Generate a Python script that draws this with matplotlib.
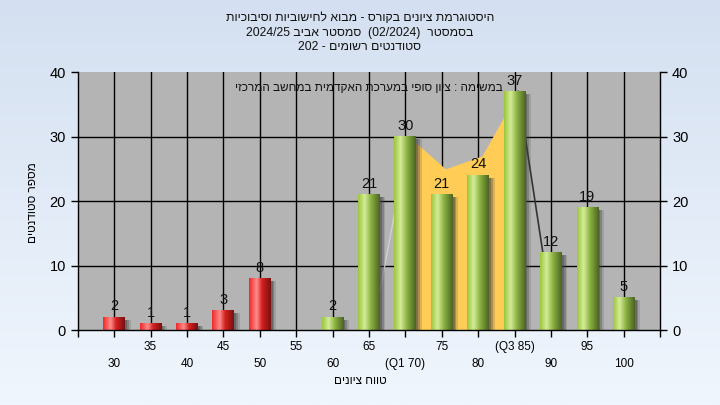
import numpy as np
import matplotlib
matplotlib.use("Agg")
import matplotlib.pyplot as plt
from matplotlib.colors import LinearSegmentedColormap

plt.rcParams['font.family'] = ['Liberation Sans', 'DejaVu Sans']

# ---- data ----
categories = [30, 35, 40, 45, 50, 55, 60, 65, 70, 75, 80, 85, 90, 95, 100]
tick_labels = ['30', '35', '40', '45', '50', '55', '60', '65', '(Q1 70)', '75',
               '80', '(Q3 85)', '90', '95', '100']
counts = [2, 1, 1, 3, 8, 0, 2, 21, 30, 21, 24, 37, 12, 19, 5]
pass_grade = 55
area_cats = [65, 70, 75, 80, 85, 90]
area_vals = [0, 30, 25, 27, 37, 0]
q1_cat, q3_cat = 70, 85

title_lines = ["היסטוגרמת ציונים בקורס - מבוא לחישוביות וסיבוכיות",
               "בסמסטר  (02/2024)  סמסטר אביב 2024/25",
               "סטודנטים רשומים - 202"]
note_text = "במשימה : ציון סופי במערכת האקדמית במחשב המרכזי"
xlabel_text = "טווח ציונים"
ylabel_text = "מספר סטודנטים"


def visual(s):
    """Convert logical RTL string into visual (left-to-right) order."""
    import re
    tokens = re.findall(r'[0-9/]+|\(|\)|[^0-9/()]', s)
    out = []
    for t in tokens:
        if t == '(':
            out.append(')')
        elif t == ')':
            out.append('(')
        else:
            out.append(t)
    return ''.join(reversed(out))


fig = plt.figure(figsize=(7.2, 4.05), dpi=100)

# background gradient
bg = fig.add_axes([0, 0, 1, 1], zorder=-10)
grad = np.linspace(0, 1, 256).reshape(-1, 1)
bg_cmap = LinearSegmentedColormap.from_list('bg', ['#d4e0f1', '#f0f6fd'])
bg.imshow(grad, aspect='auto', cmap=bg_cmap, extent=[0, 1, 0, 1], origin='upper')
bg.set_axis_off()

ax = fig.add_axes([0.108, 0.185, 0.809, 0.637])
ax.set_facecolor('#b4b4b4')

x = np.arange(len(categories))
pos = {c: i for i, c in enumerate(categories)}

# grid
for xi in x:
    ax.axvline(xi, color='black', lw=1.0, zorder=0.5)
for yv in [10, 20, 30]:
    ax.axhline(yv, color='black', lw=1.0, zorder=0.5)

# area / line series
ax_x = np.array([pos[c] for c in area_cats], dtype=float) + 0.1
ax_y = np.array(area_vals, dtype=float)
iq1 = area_cats.index(q1_cat)
iq3 = area_cats.index(q3_cat)
ax.fill_between(ax_x[iq1:iq3 + 1], 0, ax_y[iq1:iq3 + 1], color='#ffcc55', lw=0, zorder=1)
ax.plot(ax_x[:iq1 + 1], ax_y[:iq1 + 1], color='#d0d0d0', lw=1.0, zorder=1.1)
ax.plot(ax_x[iq3:], ax_y[iq3:], color='#333333', lw=1.2, zorder=1.1)

# bars with gradient
red_cmap = LinearSegmentedColormap.from_list(
    'r', [(0, '#ee2a2a'), (0.35, '#ff8a8a'), (0.6, '#d42020'), (1, '#7a1010')])
green_cmap = LinearSegmentedColormap.from_list(
    'g', [(0, '#9cc63c'), (0.3, '#d4ec98'), (0.6, '#8ab040'), (1, '#4c6424')])
w = 0.6
hgrad = np.linspace(0, 1, 64).reshape(1, -1)
for xi, c, v in zip(x, categories, counts):
    if v <= 0:
        continue
    cmap = red_cmap if c < pass_grade else green_cmap
    # shadow
    for k, a in enumerate([0.4, 0.3, 0.18]):
        ax.add_patch(plt.Rectangle((xi + w / 2, 0), 0.05 * (k + 1), v - 0.4,
                                   color='#404040', alpha=a, lw=0, zorder=1.5))
    ax.imshow(hgrad, aspect='auto', cmap=cmap,
              extent=[xi - w / 2, xi + w / 2, 0, v], zorder=2)
    ax.text(xi, v + 0.6, str(v), ha='center', va='bottom', fontsize=10.5,
            color='#111111', zorder=3)

ax.set_xlim(-1, len(categories))
ax.set_ylim(0, 40)

# ticks
ax.set_xticks(np.arange(-1, len(categories) + 1))
ax.set_xticklabels([])
ax.tick_params(axis='x', length=5, width=1, direction='out')
for xi, lab in zip(x, tick_labels):
    yy = -0.065 if xi % 2 == 1 else -0.13
    ax.text(xi, yy, lab, transform=ax.get_xaxis_transform(), ha='center',
            va='center', fontsize=8.5)

ax.set_yticks([0, 10, 20, 30, 40])
ax.tick_params(axis='y', length=5, width=1, labelsize=10.5, direction='out',
               left=True, right=True, labelleft=True, labelright=True)

for s in ['left', 'bottom', 'right']:
    ax.spines[s].set_color('black')
    ax.spines[s].set_linewidth(1.0)
ax.spines['top'].set_visible(False)

# note inside plot
ax.text(0.5, 0.94, visual(note_text), transform=ax.transAxes, ha='center',
        va='center', fontsize=8.5, color='#111111', zorder=4)

# labels
fig.text(0.5, 0.06, visual(xlabel_text), ha='center', va='center', fontsize=8.5)
fig.text(0.046, 0.5, visual(ylabel_text), ha='center', va='center',
         rotation=90, fontsize=8.5)

# title
for i, line in enumerate(title_lines):
    fig.text(0.5, 0.955 - i * 0.036, visual(line), ha='center', va='center',
             fontsize=8.8, color='#111111')

fig.savefig('out.png', dpi=100)
